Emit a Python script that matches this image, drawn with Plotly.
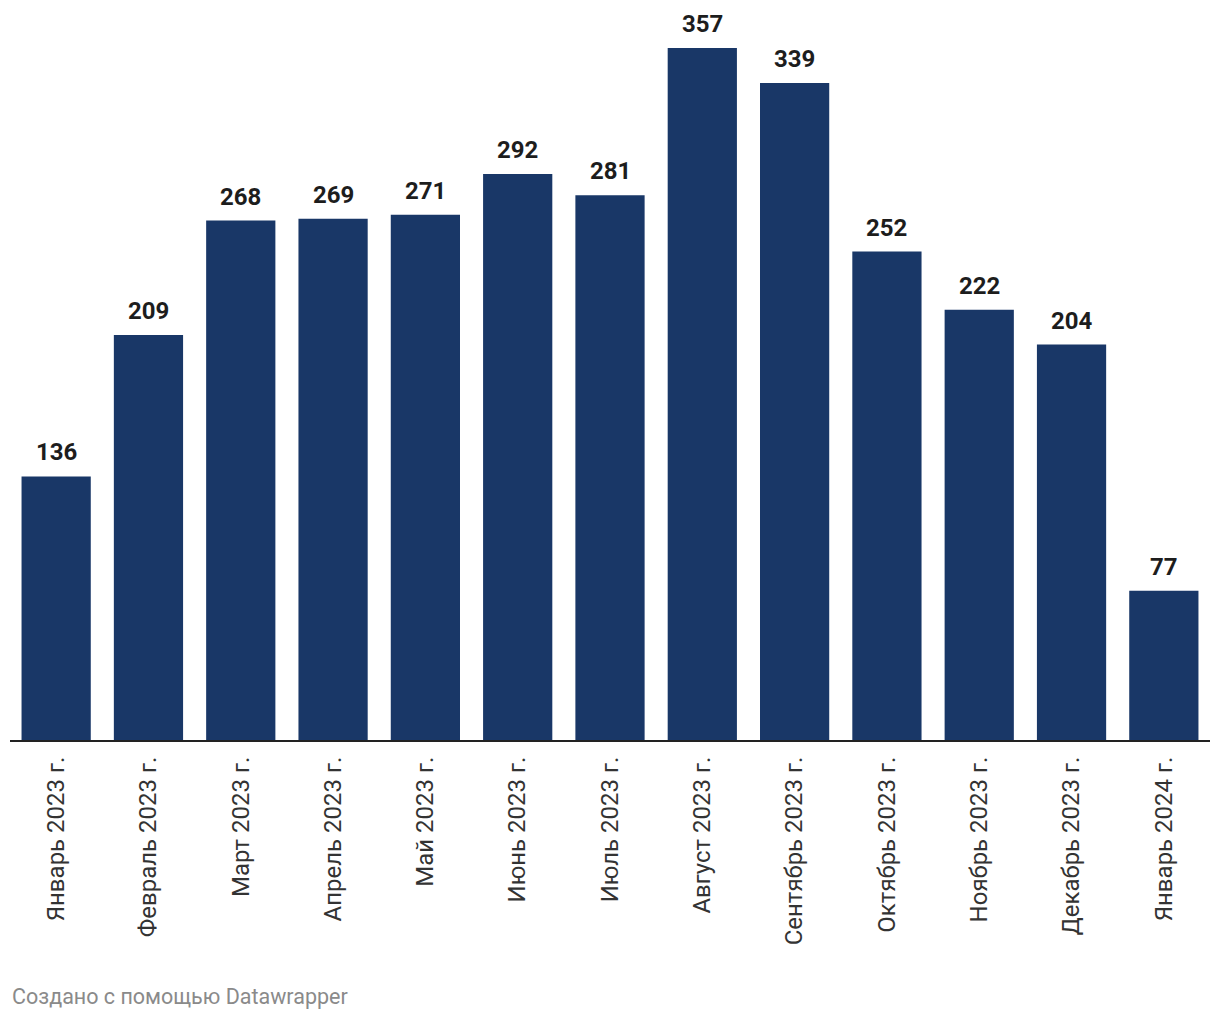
import plotly.graph_objects as go

categories = ["Январь 2023 г.", "Февраль 2023 г.", "Март 2023 г.", "Апрель 2023 г.",
              "Май 2023 г.", "Июнь 2023 г.", "Июль 2023 г.", "Август 2023 г.",
              "Сентябрь 2023 г.", "Октябрь 2023 г.", "Ноябрь 2023 г.", "Декабрь 2023 г.",
              "Январь 2024 г."]
values = [136, 209, 268, 269, 271, 292, 281, 357, 339, 252, 222, 204, 77]

fig = go.Figure(go.Bar(
    x=categories, y=values,
    marker=dict(color="#193767", line=dict(width=0)),
    hoverinfo="skip",
))

annotations = [dict(
    x=c, y=v, xref="x", yref="y", text=str(v), showarrow=False,
    xanchor="center", yanchor="bottom", yshift=8,
    font=dict(family="Roboto", size=24, color="#1d1d1d", weight="bold"),
) for c, v in zip(categories, values)]

annotations.append(dict(
    text="Создано с помощью Datawrapper",
    xref="paper", yref="paper", x=0, y=-0.347,
    xanchor="left", yanchor="middle", showarrow=False,
    font=dict(family="Roboto", size=21.5, color="#8a8a8a"),
))

fig.update_layout(
    width=1220, height=1020,
    margin=dict(l=10, r=10, t=0, b=280),
    paper_bgcolor="white", plot_bgcolor="white",
    bargap=0.25,
    showlegend=False,
    font=dict(family="Roboto", color="#333333"),
    xaxis=dict(
        tickangle=-90,
        tickfont=dict(family="Roboto", size=24, color="#333333"),
        showline=True, linecolor="#222222", linewidth=2,
        ticks="", showgrid=False, ticklabelstandoff=5,
    ),
    yaxis=dict(range=[0, 381.8], visible=False, showgrid=False),
    annotations=annotations,
)

fig.write_html("out.html")
